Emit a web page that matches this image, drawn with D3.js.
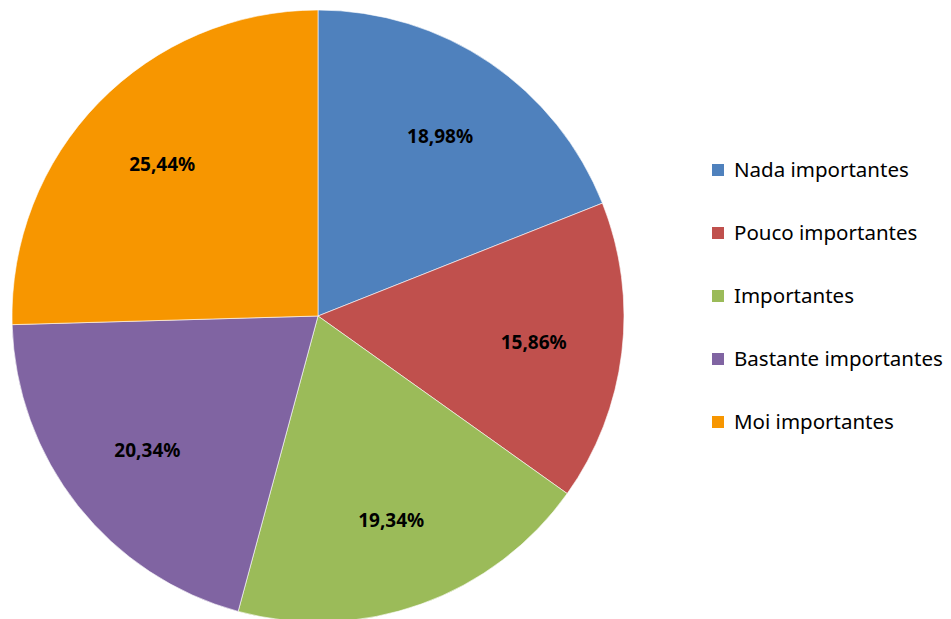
<!DOCTYPE html>
<meta charset="utf-8">
<style>
body { margin: 0; background: #fff; }
svg { display: block; }
.label { font-family: "Noto Sans", sans-serif; font-weight: bold; font-size: 19px; fill: #000; }
.legend text { font-family: "Noto Sans", sans-serif; font-size: 20.5px; fill: #000; }
</style>
<svg width="951" height="619"></svg>
<script src="https://d3js.org/d3.v7.min.js"></script>
<script>
var categories = ["Nada importantes", "Pouco importantes", "Importantes", "Bastante importantes", "Moi importantes"];
var values = [18.98, 15.86, 19.34, 20.34, 25.44];
var valueLabels = ["18,98%", "15,86%", "19,34%", "20,34%", "25,44%"];
var colors = ["#4f81bd", "#c0504d", "#9bbb59", "#8064a2", "#f79600"];

var svg = d3.select("svg"),
    cx = 318, cy = 316, radius = 306;

var data = categories.map(function(c, i) {
  return {name: c, value: values[i], label: valueLabels[i], color: colors[i]};
});

var pie = d3.pie()
    .sort(null)
    .value(function(d) { return d.value; });

var arc = d3.arc().innerRadius(0).outerRadius(radius);
var labelArc = d3.arc().innerRadius(radius * 0.71).outerRadius(radius * 0.71);

var g = svg.append("g")
    .attr("transform", "translate(" + cx + "," + cy + ")");

var slices = g.selectAll(".slice")
  .data(pie(data))
  .enter().append("g")
    .attr("class", "slice");

slices.append("path")
    .attr("d", arc)
    .attr("fill", function(d) { return d.data.color; })
    .attr("stroke", "#fff")
    .attr("stroke-width", 0.6);

slices.append("text")
    .attr("class", "label")
    .attr("transform", function(d) { return "translate(" + labelArc.centroid(d) + ")"; })
    .attr("text-anchor", "middle")
    .attr("dy", "0.35em")
    .text(function(d) { return d.data.label; });

// legend
var legend = svg.append("g")
    .attr("class", "legend")
    .attr("transform", "translate(712,170)");

var rows = legend.selectAll("g")
  .data(data)
  .enter().append("g")
    .attr("transform", function(d, i) { return "translate(0," + (i * 63) + ")"; });

rows.append("rect")
    .attr("x", 0)
    .attr("y", -6)
    .attr("width", 12)
    .attr("height", 12)
    .attr("fill", function(d) { return d.color; });

rows.append("text")
    .attr("x", 22)
    .attr("dy", "0.35em")
    .text(function(d) { return d.name; });
</script>
